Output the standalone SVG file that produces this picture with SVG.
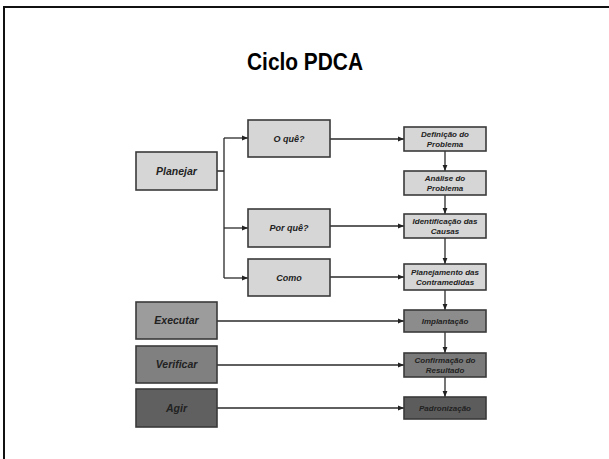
<svg xmlns="http://www.w3.org/2000/svg" width="609" height="459" viewBox="0 0 609 459">
  <defs>
    <marker id="arrow" viewBox="0 0 10 10" refX="10" refY="5" markerWidth="6" markerHeight="6" orient="auto" markerUnits="userSpaceOnUse">
      <path d="M0,1 L10,5 L0,9 z" fill="#222"/>
    </marker>
    <style>
      .box { stroke: #3a3a3a; stroke-width: 1.6; }
      .plan { fill: #d6d6d6; }
      .lbl { font-family: "Liberation Sans", Arial, sans-serif; font-weight: bold; font-style: italic; fill: #222; text-anchor: middle; }
      .big { font-size: 10.5px; }
      .mid { font-size: 9px; }
      .small { font-size: 8px; }
      .conn { fill: none; stroke: #2a2a2a; stroke-width: 1.3; }
    </style>
  </defs>

  <rect width="609" height="459" fill="#ffffff"/>
  <!-- slide frame -->
  <path d="M4,470 L4,7 L620,7" fill="none" stroke="#111" stroke-width="2"/>

  <text x="305" y="70" font-family="'Liberation Sans', Arial, sans-serif" font-weight="bold" font-size="23.5" text-anchor="middle" fill="#000" textLength="116" lengthAdjust="spacingAndGlyphs">Ciclo PDCA</text>

  <!-- connectors -->
  <g id="connectors">
    <path class="conn" d="M217,171 H224 M224,138 V278"/>
    <path class="conn" d="M224,138 H248" marker-end="url(#arrow)"/>
    <path class="conn" d="M224,228 H248" marker-end="url(#arrow)"/>
    <path class="conn" d="M224,278 H248" marker-end="url(#arrow)"/>
    <path class="conn" d="M330,139 H404" marker-end="url(#arrow)"/>
    <path class="conn" d="M330,226 H404" marker-end="url(#arrow)"/>
    <path class="conn" d="M330,277 H404" marker-end="url(#arrow)"/>
    <path class="conn" d="M217,321 H404" marker-end="url(#arrow)"/>
    <path class="conn" d="M217,365 H404" marker-end="url(#arrow)"/>
    <path class="conn" d="M217,408 H404" marker-end="url(#arrow)"/>
    <path class="conn" d="M445,151 V171" marker-end="url(#arrow)"/>
    <path class="conn" d="M445,195 V214" marker-end="url(#arrow)"/>
    <path class="conn" d="M445,238 V264" marker-end="url(#arrow)"/>
    <path class="conn" d="M445,290 V310" marker-end="url(#arrow)"/>
    <path class="conn" d="M445,332 V353" marker-end="url(#arrow)"/>
    <path class="conn" d="M445,377 V397" marker-end="url(#arrow)"/>
  </g>

  <!-- left column -->
  <g id="planejar">
    <rect class="box plan" x="136" y="152" width="81" height="38"/>
    <text class="lbl big" x="176.5" y="175">Planejar</text>
  </g>
  <g id="executar">
    <rect class="box" fill="#9c9c9c" x="136" y="302" width="81" height="37"/>
    <text class="lbl big" x="176.5" y="324">Executar</text>
  </g>
  <g id="verificar">
    <rect class="box" fill="#808080" x="136" y="346" width="81" height="37"/>
    <text class="lbl big" x="176.5" y="368">Verificar</text>
  </g>
  <g id="agir">
    <rect class="box" fill="#606060" x="136" y="389" width="81" height="38"/>
    <text class="lbl big" x="176.5" y="412">Agir</text>
  </g>

  <!-- middle column -->
  <g id="o-que">
    <rect class="box plan" x="248" y="120" width="82" height="37"/>
    <text class="lbl mid" x="289" y="141.5">O quê?</text>
  </g>
  <g id="por-que">
    <rect class="box plan" x="248" y="209" width="82" height="38"/>
    <text class="lbl mid" x="289" y="231">Por quê?</text>
  </g>
  <g id="como">
    <rect class="box plan" x="248" y="259" width="82" height="37"/>
    <text class="lbl mid" x="289" y="281">Como</text>
  </g>

  <!-- right column -->
  <g id="definicao">
    <rect class="box plan" x="404" y="127" width="82" height="24"/>
    <text class="lbl small" x="445" y="137">Definição do</text>
    <text class="lbl small" x="445" y="147">Problema</text>
  </g>
  <g id="analise">
    <rect class="box plan" x="404" y="171" width="82" height="24"/>
    <text class="lbl small" x="445" y="181">Análise do</text>
    <text class="lbl small" x="445" y="191">Problema</text>
  </g>
  <g id="identificacao">
    <rect class="box plan" x="404" y="214" width="82" height="24"/>
    <text class="lbl small" x="445" y="224">Identificação das</text>
    <text class="lbl small" x="445" y="234">Causas</text>
  </g>
  <g id="planejamento">
    <rect class="box plan" x="404" y="264" width="82" height="26"/>
    <text class="lbl small" x="445" y="275">Planejamento das</text>
    <text class="lbl small" x="445" y="285">Contramedidas</text>
  </g>
  <g id="implantacao">
    <rect class="box" fill="#8c8c8c" x="404" y="310" width="82" height="22"/>
    <text class="lbl small" x="445" y="324">Implantação</text>
  </g>
  <g id="confirmacao">
    <rect class="box" fill="#7a7a7a" x="404" y="353" width="82" height="24"/>
    <text class="lbl small" x="445" y="363">Confirmação do</text>
    <text class="lbl small" x="445" y="373">Resultado</text>
  </g>
  <g id="padronizacao">
    <rect class="box" fill="#5c5c5c" x="404" y="397" width="82" height="22"/>
    <text class="lbl small" x="445" y="411">Padronização</text>
  </g>
</svg>
